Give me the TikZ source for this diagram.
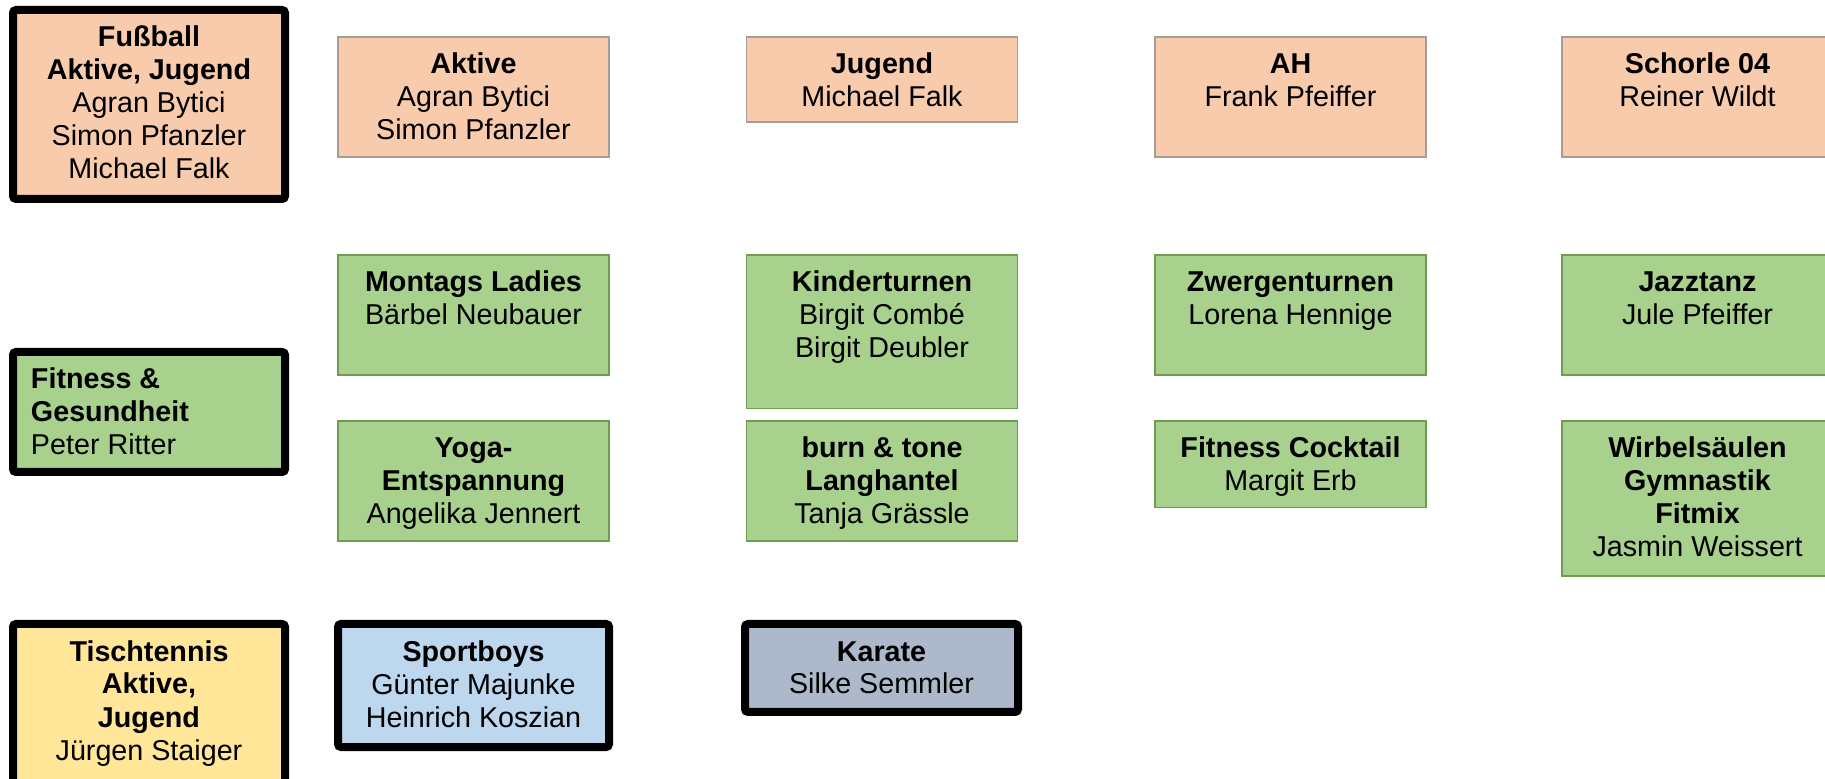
\documentclass[tikz,border=0pt]{standalone}
\usepackage{fontspec}
\setmainfont{Liberation Sans}
\definecolor{peach}{HTML}{F8CBAD}
\definecolor{peachline}{HTML}{A89C96}
\definecolor{lgreen}{HTML}{A9D18E}
\definecolor{greenline}{HTML}{6E9C50}
\definecolor{lyellow}{HTML}{FFE699}
\definecolor{lblue}{HTML}{BDD7EE}
\definecolor{lgray}{HTML}{ADB9CA}
\begin{document}
\begin{tikzpicture}[x=0.5pt,y=-0.5pt,
  peachbox/.style={rectangle, fill=peach, draw=peachline, line width=0.75pt, inner sep=0pt, outer sep=0pt, minimum width=135.5pt},
  greenbox/.style={rectangle, fill=lgreen, draw=greenline, line width=0.75pt, inner sep=0pt, outer sep=0pt, minimum width=135.5pt},
  thickbox/.style={rectangle, draw=black, line width=4pt, rounded corners=1.5pt, inner sep=0pt, outer sep=0pt, minimum width=136pt},
  txt/.style={font=\fontsize{14.35}{16.5}\selectfont, align=center, inner sep=0pt, outer sep=0pt, anchor=north},
  ltxt/.style={font=\fontsize{14.35}{16.5}\selectfont, align=left, inner sep=0pt, outer sep=0pt, anchor=north west}
]
\useasboundingbox (0,0) rectangle (1825,779);
\clip (0,0) rectangle (1825,779);

% Row 1 (Fussball)
\node[thickbox, fill=peach, minimum height=94.5pt] (fussball) at (149,104.5) {};
\node[txt] (fussball-t) at ([yshift=-6.95pt]fussball.north) {\strut\textbf{Fußball}\\\textbf{Aktive, Jugend}\\Agran Bytici\\Simon Pfanzler\\Michael Falk};

\node[peachbox, minimum height=60pt] (aktive) at (473.5,97) {};
\node[txt] (aktive-t) at ([yshift=-6.95pt]aktive.north) {\strut\textbf{Aktive}\\Agran Bytici\\Simon Pfanzler};

\node[peachbox, minimum height=42.5pt] (jugend) at (882,79.5) {};
\node[txt] (jugend-t) at ([yshift=-6.95pt]jugend.north) {\strut\textbf{Jugend}\\Michael Falk};

\node[peachbox, minimum height=60pt] (ah) at (1290.5,97) {};
\node[txt] (ah-t) at ([yshift=-6.95pt]ah.north) {\strut\textbf{AH}\\Frank Pfeiffer};

\node[peachbox, minimum height=60pt] (schorle) at (1697.5,97) {};
\node[txt] (schorle-t) at ([yshift=-6.95pt]schorle.north) {\strut\textbf{Schorle 04}\\Reiner Wildt};

% Fitness & Gesundheit group
\node[thickbox, fill=lgreen, minimum height=60pt] (fitness) at (149,412) {};
\node[ltxt] (fitness-t) at ([xshift=9pt,yshift=-6.95pt]fitness.north west) {\strut\textbf{Fitness \&}\\\textbf{Gesundheit}\\Peter Ritter};

\node[greenbox, minimum height=60pt] (montags) at (473.5,315) {};
\node[txt] (montags-t) at ([yshift=-6.95pt]montags.north) {\strut\textbf{Montags Ladies}\\Bärbel Neubauer};

\node[greenbox, minimum height=76.75pt] (kinder) at (882,331.75) {};
\node[txt] (kinder-t) at ([yshift=-6.95pt]kinder.north) {\strut\textbf{Kinderturnen}\\Birgit Combé\\Birgit Deubler};

\node[greenbox, minimum height=60pt] (zwergen) at (1290.5,315) {};
\node[txt] (zwergen-t) at ([yshift=-6.95pt]zwergen.north) {\strut\textbf{Zwergenturnen}\\Lorena Hennige};

\node[greenbox, minimum height=60pt] (jazz) at (1697.5,315) {};
\node[txt] (jazz-t) at ([yshift=-6.95pt]jazz.north) {\strut\textbf{Jazztanz}\\Jule Pfeiffer};

\node[greenbox, minimum height=60pt] (yoga) at (473.5,481) {};
\node[txt] (yoga-t) at ([yshift=-6.95pt]yoga.north) {\strut\textbf{Yoga-}\\\textbf{Entspannung}\\Angelika Jennert};

\node[greenbox, minimum height=60pt] (burn) at (882,481) {};
\node[txt] (burn-t) at ([yshift=-6.95pt]burn.north) {\strut\textbf{burn \& tone}\\\textbf{Langhantel}\\Tanja Grässle};

\node[greenbox, minimum height=43.25pt] (cocktail) at (1290.5,464.25) {};
\node[txt] (cocktail-t) at ([yshift=-6.95pt]cocktail.north) {\strut\textbf{Fitness Cocktail}\\Margit Erb};

\node[greenbox, minimum height=77.5pt] (wirbel) at (1697.5,498.5) {};
\node[txt] (wirbel-t) at ([yshift=-6.95pt]wirbel.north) {\strut\textbf{Wirbelsäulen}\\\textbf{Gymnastik}\\\textbf{Fitmix}\\Jasmin Weissert};

% Bottom row
\node[thickbox, fill=lyellow, minimum height=98pt] (tischtennis) at (149,722) {};
\node[txt] (tischtennis-t) at ([yshift=-6.95pt]tischtennis.north) {\strut\textbf{Tischtennis}\\\textbf{Aktive,}\\\textbf{Jugend}\\Jürgen Staiger};

\node[thickbox, fill=lblue, minimum height=61.5pt, minimum width=135.5pt] (sportboys) at (473.5,685.5) {};
\node[txt] (sportboys-t) at ([yshift=-6.95pt]sportboys.north) {\strut\textbf{Sportboys}\\Günter Majunke\\Heinrich Koszian};

\node[thickbox, fill=lgray, minimum height=44pt, minimum width=136.5pt] (karate) at (881.5,668) {};
\node[txt] (karate-t) at ([yshift=-6.95pt]karate.north) {\strut\textbf{Karate}\\Silke Semmler};
\end{tikzpicture}
\end{document}
